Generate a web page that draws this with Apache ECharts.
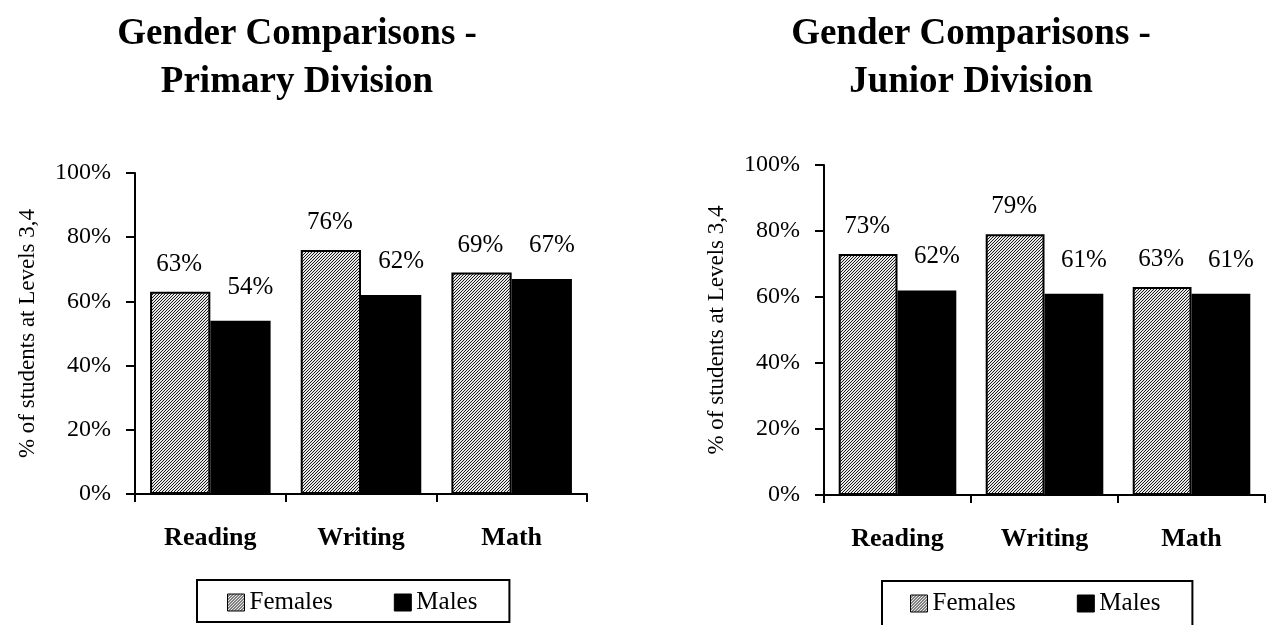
<!DOCTYPE html>
<html>
<head>
<meta charset="utf-8">
<script src="https://cdn.jsdelivr.net/npm/echarts@6/dist/echarts.min.js"></script>
<style>
html,body{margin:0;padding:0;background:#fff;}
#chart{width:1269px;height:625px;}
</style>
</head>
<body>
<div id="chart"></div>
<script>
var categories = ['Reading', 'Writing', 'Math'];
var seriesNames = ['Females', 'Males'];
var primaryFemales = [63, 76, 69];
var primaryMales = [54, 62, 67];
var juniorFemales = [73, 79, 63];
var juniorMales = [62, 61, 61];
var yTicks = [0, 20, 40, 60, 80, 100];
var titlePrimary = 'Gender Comparisons -\nPrimary Division';
var titleJunior = 'Gender Comparisons -\nJunior Division';
var yAxisName = '% of students at Levels 3,4';

var FONT = "'Liberation Serif', 'Times New Roman', serif";

function makeHatch() {
  var c = document.createElement('canvas');
  c.width = 3; c.height = 3;
  var ctx = c.getContext('2d');
  ctx.fillStyle = '#e8e8e8';
  ctx.fillRect(0, 0, 3, 3);
  ctx.fillStyle = '#1a1a1a';
  for (var x = 0; x < 3; x++) {
    for (var y = 0; y < 3; y++) {
      if ((x + y) % 3 === 2) ctx.fillRect(x, y, 1, 1);
    }
  }
  return c;
}
var hatch = { image: makeHatch(), repeat: 'repeat' };

var chart = echarts.init(document.getElementById('chart'), null, { renderer: 'canvas' });

function xAxisCfg(gridIndex) {
  return {
    type: 'category', gridIndex: gridIndex, data: categories,
    axisLine: { lineStyle: { color: '#000', width: 2 } },
    axisTick: { show: true, alignWithLabel: false, length: 8, lineStyle: { color: '#000', width: 2 } },
    axisLabel: { color: '#000', fontFamily: FONT, fontSize: 26, fontWeight: 'bold', margin: 31 },
    splitLine: { show: false }
  };
}
function yAxisCfg(gridIndex, nameGap) {
  return {
    type: 'value', gridIndex: gridIndex, min: yTicks[0], max: yTicks[yTicks.length - 1], interval: 20,
    name: yAxisName, nameLocation: 'middle', nameGap: nameGap,
    nameTextStyle: { color: '#000', fontFamily: FONT, fontSize: 23 },
    axisLine: { show: true, lineStyle: { color: '#000', width: 2 } },
    axisTick: { show: true, length: 9, lineStyle: { color: '#000', width: 2 } },
    axisLabel: { color: '#000', fontFamily: FONT, fontSize: 24, margin: 24, formatter: '{value}%' },
    splitLine: { show: false }
  };
}
function barSeries(name, data, idx, female) {
  return {
    type: 'bar', name: name, data: data, xAxisIndex: idx, yAxisIndex: idx,
    barGap: '0%', barCategoryGap: '20%',
    itemStyle: { color: female ? hatch : '#000', borderColor: '#000', borderWidth: 2 },
    label: {
      show: true, position: 'top', distance: female ? 15 : 21,
      offset: female ? [-1, 0] : [10, 0],
      formatter: '{c}%', color: '#000', fontFamily: FONT, fontSize: 25
    },
    emphasis: { disabled: true },
    animation: false
  };
}
function legendCfg(left, top, padding) {
  return {
    left: left, top: top, data: seriesNames,
    orient: 'horizontal', itemWidth: 17, itemHeight: 17, itemGap: 61,
    padding: padding, borderColor: '#000', borderWidth: 2, backgroundColor: '#fff',
    icon: 'rect',
    itemStyle: { borderColor: '#000', borderWidth: 1 },
    textStyle: { color: '#000', fontFamily: FONT, fontSize: 25 },
    selectedMode: false
  };
}

var option = {
  animation: false,
  backgroundColor: '#fff',
  title: [
    { text: titlePrimary, left: 297, top: 10, padding: 0, textAlign: 'center',
      textStyle: { fontFamily: FONT, fontSize: 37, fontWeight: 'bold', color: '#000', lineHeight: 48 } },
    { text: titleJunior, left: 971, top: 10, padding: 0, textAlign: 'center',
      textStyle: { fontFamily: FONT, fontSize: 37, fontWeight: 'bold', color: '#000', lineHeight: 48 } }
  ],
  grid: [
    { left: 135, top: 173, width: 452, height: 321, containLabel: false },
    { left: 824, top: 165, width: 441, height: 330, containLabel: false }
  ],
  xAxis: [xAxisCfg(0), xAxisCfg(1)],
  yAxis: [yAxisCfg(0, 96), yAxisCfg(1, 96)],
  legend: [
    legendCfg(197, 580, [10, 32, 7, 30]),
    legendCfg(882, 581, [10, 32, 20, 28])
  ],
  series: [
    barSeries(seriesNames[0], primaryFemales, 0, true),
    barSeries(seriesNames[1], primaryMales, 0, false),
    barSeries(seriesNames[0], juniorFemales, 1, true),
    barSeries(seriesNames[1], juniorMales, 1, false)
  ]
};
chart.setOption(option);
</script>
</body>
</html>
